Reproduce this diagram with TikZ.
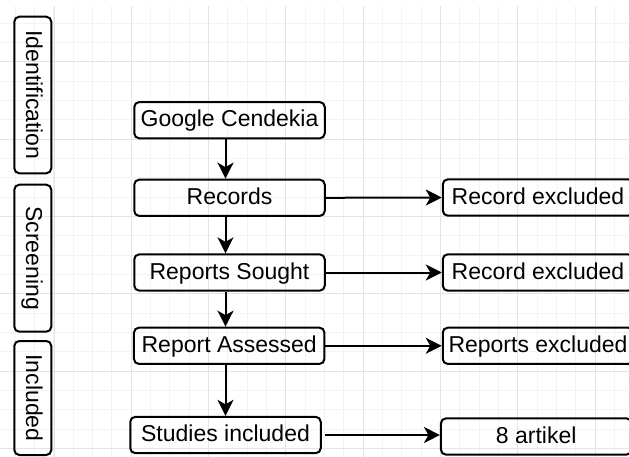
\documentclass[tikz,border=0pt]{standalone}
\usepackage{fontspec}
\setmainfont{Liberation Sans}
\usetikzlibrary{arrows.meta}

\begin{document}
\begin{tikzpicture}[x=1pt, y=-1pt, >={Stealth[length=16pt, width=16pt, inset=4.5pt]}, font=\fontsize{23}{27}\selectfont]
    \definecolor{gminor}{RGB}{243,243,243} \definecolor{gmajor}{RGB}{228,228,228}
    \tikzset{box/.style={draw, line width=2pt, rounded corners=5pt, minimum width=190.5pt, minimum height=36.3pt, text height=16pt, text depth=2.5pt, inner sep=0pt},
             lane/.style={draw, line width=2pt, rounded corners=5pt, minimum height=37pt, text height=16pt, text depth=2.5pt, inner sep=0pt, rotate=-90},
             flow/.style={->, line width=2pt}}

    \useasboundingbox (0,0) rectangle (629,457);
    \clip (0,0) rectangle (629,457);
    \fill[white] (0,0) rectangle (629,457);
    \foreach \k in {0,...,31} \draw[gminor, line width=1pt] ({15.33+19.333*\k},6) -- ({15.33+19.333*\k},457);
    \foreach \k in {1,...,23} \draw[gminor, line width=1pt] (0,{3.7+19.333*\k}) -- (629,{3.7+19.333*\k});
    \foreach \k in {0,...,7} \draw[gmajor, line width=1pt] ({54+77.33*\k},6) -- ({54+77.33*\k},457);
    \foreach \k in {0,...,5} \draw[gmajor, line width=1pt] (0,{61.7+77.33*\k}) -- (629,{61.7+77.33*\k});

    \node[lane, minimum width=156.6pt] (ident) at (32.8,95) {Identification};
    \node[lane, minimum width=147pt] (screen) at (32.8,258.2) {Screening};
    \node[lane, minimum width=114pt] (incl) at (32.8,398) {Included};

    \node[box] (gc) at (229.5,120.2) {Google Cendekia};
    \node[box] (rec) at (229.5,197.8) {Records};
    \node[box] (sought) at (229.5,272.5) {Reports Sought};
    \node[box] (assessed) at (229.2,345.8) {Report Assessed};
    \node[box] (studies) at (225.5,435) {Studies included};

    \node[box] (excl1) at (538,197.5) {Record excluded};
    \node[box] (excl2) at (538,272.5) {Record excluded};
    \node[box] (excl3) at (538,345.8) {Reports excluded};
    \node[box] (artikel) at (536.2,436.5) {8 artikel};

    \draw[flow] (gc.south -| studies.north) -- (rec.north -| studies.north);
    \draw[flow] (rec.south -| studies.north) -- (sought.north -| studies.north);
    \draw[flow] (sought.south -| studies.north) -- (assessed.north -| studies.north);
    \draw[flow] (assessed.south -| studies.north) -- (studies.north);

    \draw[flow] (rec.east) -- (excl1.west);
    \draw[flow] (sought.east) -- (excl2.west);
    \draw[flow] (assessed.east) -- (excl3.west);
    \draw[flow, shorten <=3pt] (studies.east) -- (studies.east -| artikel.west);
\end{tikzpicture}
\end{document}
